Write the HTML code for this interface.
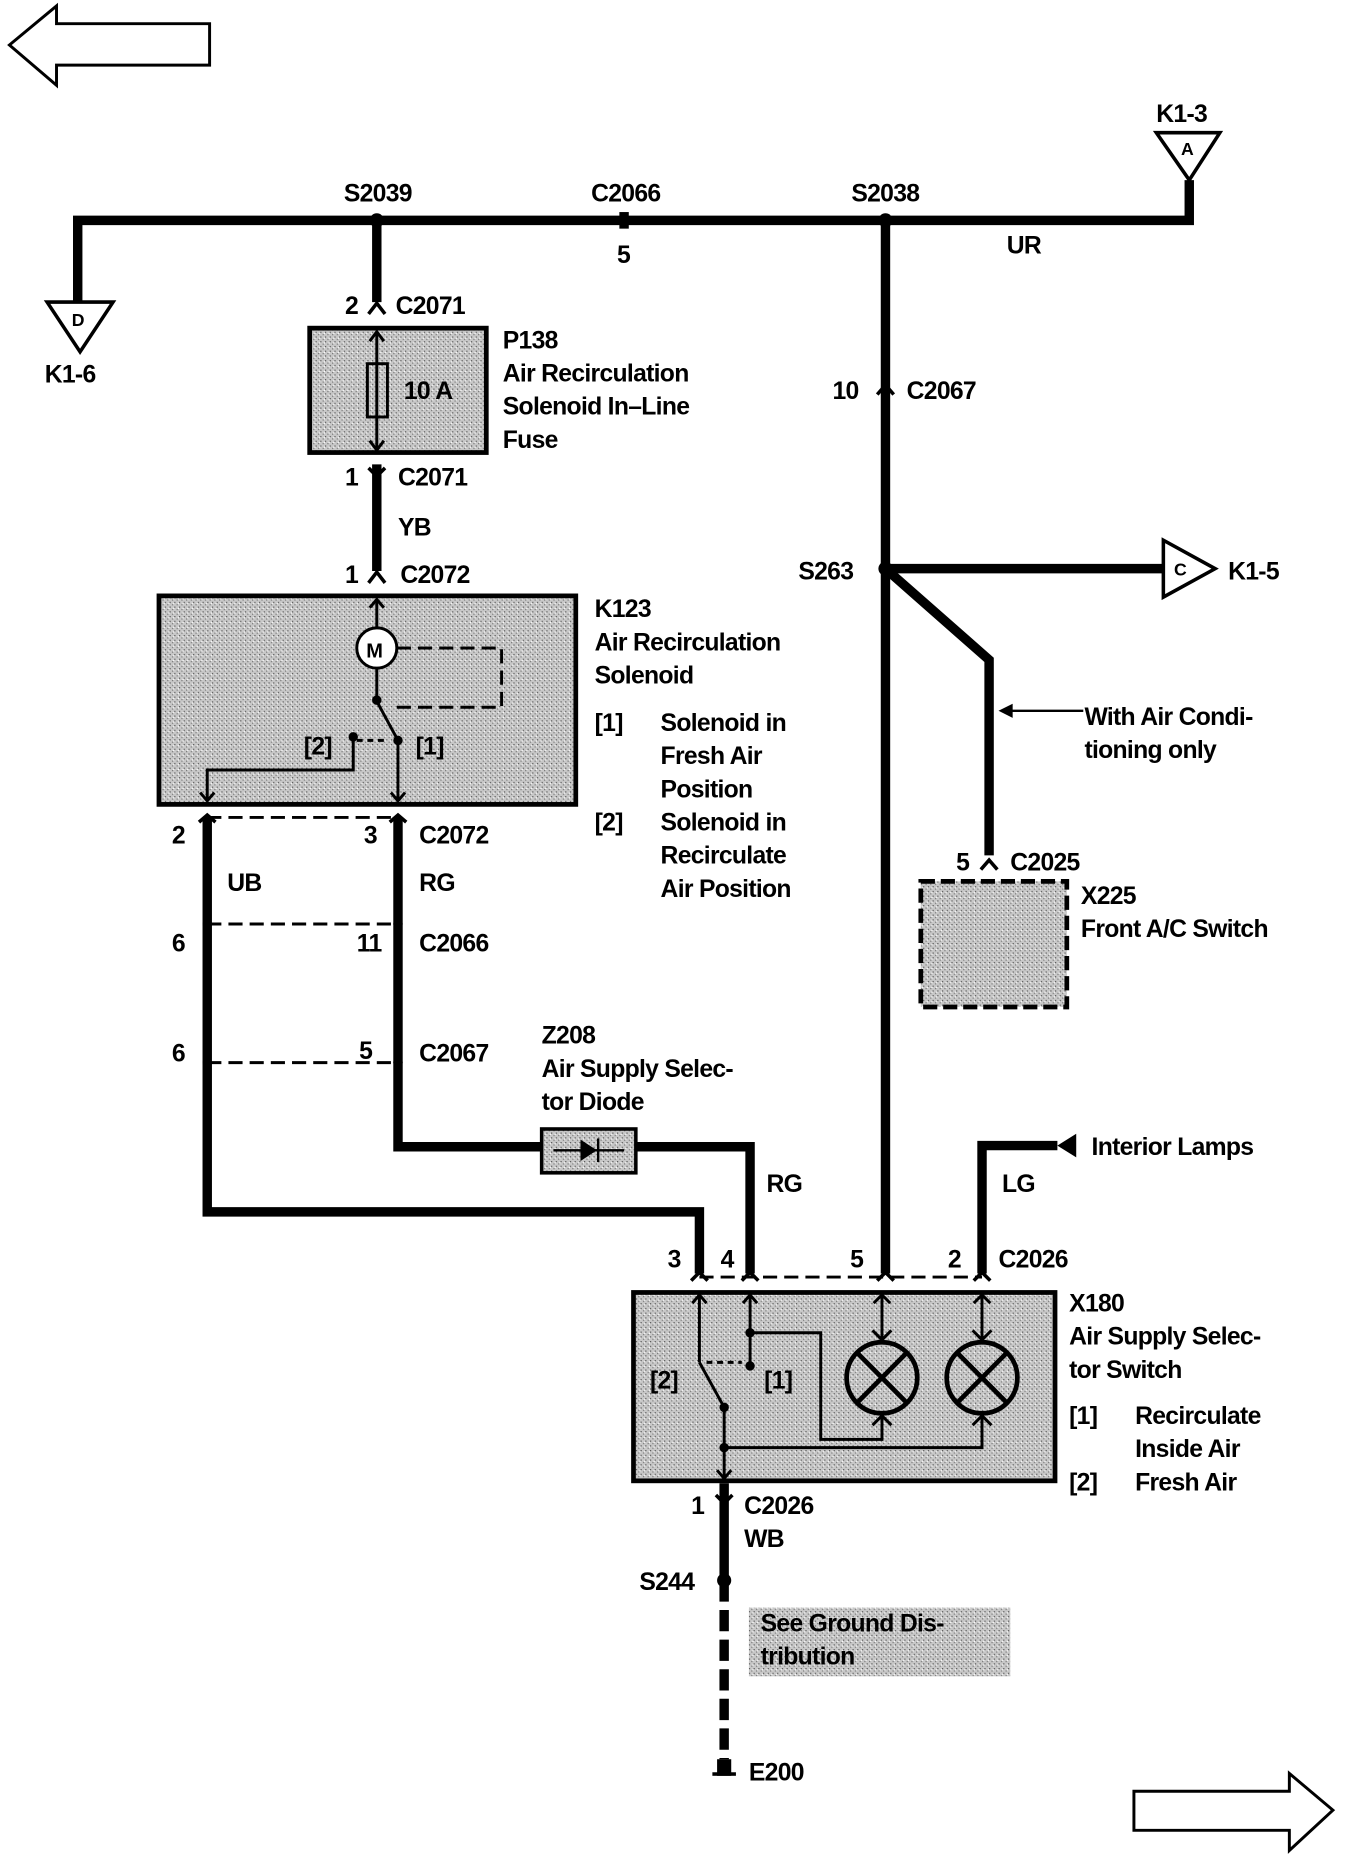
<!DOCTYPE html>
<html><head><meta charset="utf-8"><style>
html,body{margin:0;padding:0;background:#fff}
svg{display:block}
text{font-family:"Liberation Sans",sans-serif;font-weight:bold;font-size:21px;fill:#000;letter-spacing:-0.6px}
</style></head><body>
<svg width="1360" height="1854" viewBox="0 0 1155 1565" preserveAspectRatio="none" xmlns="http://www.w3.org/2000/svg">
<defs>
<pattern id="st" width="4" height="4" patternUnits="userSpaceOnUse">
<rect width="4" height="4" fill="#c8c8c8"/><rect x="0" y="0" width="1" height="1" fill="#555"/><rect x="2" y="2" width="1" height="1" fill="#777"/><rect x="3" y="1" width="1" height="1" fill="#fff"/>
</pattern>
</defs>
<g fill="none" stroke="#000" stroke-width="2.5">
<polygon points="8,38 48,5 48,20 178,20 178,55 48,55 48,72"/>
<polygon points="963,1512 1095,1512 1095,1497 1132,1528 1095,1562 1095,1545 963,1545"/>
</g>
<g fill="none" stroke="#000" stroke-width="8" stroke-linejoin="miter">
<polyline points="66,255 66,186 1010,186 1010,152"/>
<line x1="320" y1="186" x2="320" y2="255"/>
<line x1="320" y1="392" x2="320" y2="482"/>
<line x1="752" y1="186" x2="752" y2="1075"/>
<line x1="752" y1="480" x2="988" y2="480"/>
<polyline points="752,480 840,557 840,722"/>
<polyline points="176,690 176,1023 594,1023 594,1075"/>
<polyline points="338,690 338,968 637,968 637,1075"/>
<polyline points="898,967 834,967 834,1075"/>
<line x1="615" y1="1252" x2="615" y2="1334"/>
<line x1="615" y1="1334" x2="615" y2="1485" stroke-dasharray="18,7"/>
</g>
<g fill="#fff" stroke="#000" stroke-width="3">
<polygon points="40,255 96,255 68,297"/>
<polygon points="982,112 1036,112 1010,152"/>
<polygon points="988,456 988,504 1032,480"/>
</g>
<text x="61" y="275" style="font-size:15px">D</text>
<text x="1003" y="131" style="font-size:15px">A</text>
<text x="997" y="486" style="font-size:15px">C</text>
<g fill="#000">
<circle cx="320" cy="186" r="6"/><circle cx="752" cy="186" r="6"/><circle cx="752" cy="480" r="6"/><circle cx="615" cy="1334" r="6"/>
<rect x="526" y="179" width="8" height="14"/>
<polygon points="898,967 914,957 914,977"/>
<polygon points="848,600 860,594 860,606"/>
<rect x="609" y="1485" width="12" height="14"/><rect x="605" y="1496" width="20" height="3"/>
</g>
<line x1="858" y1="600" x2="920" y2="600" stroke="#000" stroke-width="2"/>
<rect x="263" y="277" width="150" height="105" fill="url(#st)" stroke="#000" stroke-width="4"/>
<rect x="135" y="503" width="354" height="176" fill="url(#st)" stroke="#000" stroke-width="4"/>
<rect x="538" y="1091" width="358" height="159" fill="url(#st)" stroke="#000" stroke-width="4"/>
<rect x="782" y="744" width="124" height="106" fill="url(#st)" stroke="#000" stroke-width="4" stroke-dasharray="12,5"/>
<rect x="636" y="1357" width="222" height="58" fill="url(#st)"/>
<rect x="460" y="953" width="80" height="37" fill="url(#st)" stroke="#000" stroke-width="3"/>
<polygon points="493,962 493,980 507,971" fill="#000"/><line x1="508" y1="961" x2="508" y2="981" stroke="#000" stroke-width="2"/>
<line x1="470" y1="971" x2="530" y2="971" stroke="#000" stroke-width="2"/>
<g fill="none" stroke="#000" stroke-width="2.5">
<line x1="320" y1="280" x2="320" y2="380"/>
<rect x="312" y="307" width="17" height="45"/>
<polyline points="314,288 320,280 326,288"/><polyline points="314,372 320,380 326,372"/>
</g>
<g fill="none" stroke="#000" stroke-width="3">
<polyline points="313,265 320,256 327,265"/>
<polyline points="313,395 320,402 327,395"/>
<polyline points="313,492 320,483 327,492"/>
<polyline points="745,333 752,325 759,333"/>
<polyline points="833,734 840,726 847,734"/>
<polyline points="169,694 176,688 183,694"/><polyline points="331,694 338,688 345,694"/>
<polyline points="587,1081 594,1074 601,1081"/><polyline points="630,1081 637,1074 644,1081"/>
<polyline points="745,1081 752,1074 759,1081"/><polyline points="827,1081 834,1074 841,1081"/>
<polyline points="608,1262 615,1269 622,1262"/>
</g>
<g stroke="#000" stroke-width="2.5" stroke-dasharray="12,6" fill="none">
<line x1="176" y1="690" x2="338" y2="690"/>
<line x1="176" y1="780" x2="338" y2="780"/>
<line x1="176" y1="897" x2="338" y2="897"/>
<line x1="594" y1="1078" x2="834" y2="1078"/>
<polyline points="337,547 426,547 426,597 335,597"/>
</g>
<g fill="#000"><circle cx="176" cy="780" r="4"/><circle cx="338" cy="780" r="4"/><circle cx="176" cy="897" r="4"/><circle cx="338" cy="897" r="4"/></g>
<g fill="none" stroke="#000" stroke-width="2.5">
<line x1="320" y1="506" x2="320" y2="530"/><polyline points="314,513 320,506 326,513"/>
<circle cx="320" cy="547" r="17" fill="#fff"/>
<line x1="320" y1="564" x2="320" y2="590"/>
<line x1="320" y1="592" x2="338" y2="625"/>
<line x1="338" y1="625" x2="338" y2="676"/><polyline points="332,669 338,676 344,669"/>
<polyline points="300,622 300,650 176,650 176,676"/><polyline points="170,669 176,676 182,669"/>
<line x1="303" y1="625" x2="330" y2="625" stroke-dasharray="5,4"/>
</g>
<g fill="#000"><circle cx="320" cy="591" r="4"/><circle cx="338" cy="625" r="4"/><circle cx="300" cy="622" r="4"/></g>
<text x="311" y="555" style="font-size:17px">M</text>
<text x="258" y="637">[2]</text><text x="353" y="637">[1]</text>
<text x="343" y="337">10 A</text>
<g fill="none" stroke="#000" stroke-width="2.5">
<polyline points="588,1100 594,1093 600,1100"/><polyline points="631,1100 637,1093 643,1100"/>
<line x1="594" y1="1093" x2="594" y2="1150"/><line x1="594" y1="1150" x2="615" y2="1188"/>
<line x1="615" y1="1188" x2="615" y2="1248"/><polyline points="609,1241 615,1248 621,1241"/>
<line x1="637" y1="1093" x2="637" y2="1153"/>
<polyline points="637,1125 697,1125 697,1215 749,1215 749,1195"/>
<polyline points="615,1222 834,1222 834,1195"/>
<line x1="600" y1="1150" x2="630" y2="1150" stroke-dasharray="5,4"/>
<line x1="749" y1="1093" x2="749" y2="1133"/><line x1="834" y1="1093" x2="834" y2="1133"/>
<polyline points="742,1100 749,1093 756,1100"/><polyline points="827,1100 834,1093 841,1100"/>
<polyline points="741,1123 749,1131 757,1123"/><polyline points="826,1123 834,1131 842,1123"/>
<polyline points="741,1203 749,1195 757,1203"/><polyline points="826,1203 834,1195 842,1203"/>
</g>
<g fill="none" stroke="#000" stroke-width="4">
<circle cx="749" cy="1163" r="30"/><circle cx="834" cy="1163" r="30"/>
<line x1="728" y1="1142" x2="770" y2="1184"/><line x1="770" y1="1142" x2="728" y2="1184"/>
<line x1="813" y1="1142" x2="855" y2="1184"/><line x1="855" y1="1142" x2="813" y2="1184"/>
</g>
<g fill="#000"><circle cx="637" cy="1125" r="4"/><circle cx="637" cy="1153" r="4"/><circle cx="615" cy="1188" r="4"/><circle cx="615" cy="1222" r="4"/></g>
<text x="552" y="1172">[2]</text><text x="649" y="1172">[1]</text>
<text x="982" y="103">K1-3</text>
<text x="38" y="323">K1-6</text>
<text x="292" y="170">S2039</text><text x="502" y="170">C2066</text><text x="524" y="222">5</text>
<text x="723" y="170">S2038</text><text x="855" y="214">UR</text>
<text x="293" y="265">2</text><text x="336" y="265">C2071</text>
<text x="427" y="294">P138</text><text x="427" y="322">Air Recirculation</text><text x="427" y="350">Solenoid In–Line</text><text x="427" y="378">Fuse</text>
<text x="293" y="410">1</text><text x="338" y="410">C2071</text>
<text x="338" y="452">YB</text>
<text x="293" y="492">1</text><text x="340" y="492">C2072</text>
<text x="707" y="337">10</text><text x="770" y="337">C2067</text>
<text x="678" y="489">S263</text><text x="1043" y="489">K1-5</text>
<text x="505" y="521">K123</text><text x="505" y="549">Air Recirculation</text><text x="505" y="577">Solenoid</text>
<text x="505" y="617">[1]</text><text x="561" y="617">Solenoid in</text><text x="561" y="645">Fresh Air</text><text x="561" y="673">Position</text>
<text x="505" y="701">[2]</text><text x="561" y="701">Solenoid in</text><text x="561" y="729">Recirculate</text><text x="561" y="757">Air Position</text>
<text x="921" y="612">With Air Condi-</text><text x="921" y="640">tioning only</text>
<text x="812" y="735">5</text><text x="858" y="735">C2025</text>
<text x="918" y="763">X225</text><text x="918" y="791">Front A/C Switch</text>
<text x="146" y="712">2</text><text x="309" y="712">3</text><text x="356" y="712">C2072</text>
<text x="193" y="752">UB</text><text x="356" y="752">RG</text>
<text x="146" y="803">6</text><text x="303" y="803">11</text><text x="356" y="803">C2066</text>
<text x="146" y="896">6</text><text x="305" y="894">5</text><text x="356" y="896">C2067</text>
<text x="460" y="881">Z208</text><text x="460" y="909">Air Supply Selec-</text><text x="460" y="937">tor Diode</text>
<text x="651" y="1006">RG</text><text x="851" y="1006">LG</text>
<text x="927" y="975">Interior Lamps</text>
<text x="567" y="1070">3</text><text x="612" y="1070">4</text><text x="722" y="1070">5</text><text x="805" y="1070">2</text><text x="848" y="1070">C2026</text>
<text x="908" y="1107">X180</text><text x="908" y="1135">Air Supply Selec-</text><text x="908" y="1163">tor Switch</text>
<text x="908" y="1202">[1]</text><text x="964" y="1202">Recirculate</text><text x="964" y="1230">Inside Air</text>
<text x="908" y="1258">[2]</text><text x="964" y="1258">Fresh Air</text>
<text x="587" y="1278">1</text><text x="632" y="1278">C2026</text><text x="632" y="1306">WB</text>
<text x="543" y="1342">S244</text>
<text x="646" y="1377">See Ground Dis-</text><text x="646" y="1405">tribution</text>
<text x="636" y="1503">E200</text>
</svg>
</body></html>
